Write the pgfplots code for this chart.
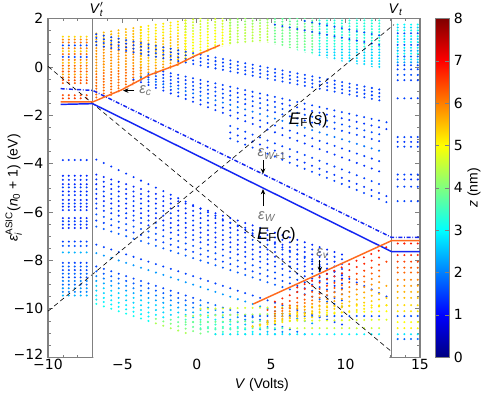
\documentclass[border=0pt]{standalone}
\usepackage{fontspec}
\setmainfont{Liberation Sans}
\newfontfamily\dejavu{DejaVu Sans}
\usepackage{amsmath}
\usepackage{pgfplots}
\pgfplotsset{compat=1.18}
\usetikzlibrary{arrows.meta}
\definecolor{lineblue}{rgb}{0.08,0.15,0.95}
\definecolor{lineorange}{rgb}{1,0.42,0.12}
\definecolor{framegray}{gray}{0.5}
\definecolor{labelgray}{gray}{0.45}
% one dotted level: dots every column, coloured by z through the colormap
\pgfplotsset{dd/.style={mesh, point meta=explicit, line width=1.7pt, line cap=round, dash pattern=on 0pt off #1}}

\begin{document}
\begin{tikzpicture}
\begin{axis}[
  name=main,
  scale only axis, width=279pt, height=254pt,
  xmin=-10, xmax=15, ymin=-12, ymax=2,
  xtick={-10,-5,0,5,10,15}, xticklabels={−10,−5,0,5,10,15},
  ytick={-12,-10,-8,-6,-4,-2,0,2}, yticklabels={\raisebox{4pt}{−12},−10,−8,−6,−4,−2,0,2},
  minor x tick num=4, minor y tick num=3,
  tick align=inside, major tick length=3.5pt, minor tick length=2pt,
  tick label style={font=\dejavu\fontsize{10.5}{12}\selectfont},
  xticklabel style={inner sep=1.5pt},
  axis line style={framegray, line width=0.9pt},
  every tick/.append style={framegray, line width=0.5pt},
  clip mode=individual,
  colormap/jet, point meta min=0, point meta max=8,
  colorbar,
  colorbar style={scale only axis, width=10.5pt, at={(parent axis.north east)},
    anchor=north west, xshift=2.8pt, ytick={0,1,2,3,4,5,6,7,8},
    yticklabels={0,1,2,3,4,5,6,7,8},
    yticklabel style={font=\dejavu\fontsize{10.5}{12}\selectfont},
    axis line style={framegray, line width=0.8pt},
    major tick length=3pt, ylabel={\textit{z} (nm)},
    ylabel style={font=\fontsize{10.5}{12}\selectfont, at={(axis description cs:2.78,0.5)}, anchor=center}},
  label style={font=\fontsize{10.5}{12}\selectfont},
  xlabel={\textit{V} (Volts)},
  xlabel style={at={(axis description cs:0.575,-0.083)}, anchor=center},
  ylabel={\textit{ε}$_{\textit{i}}^{\text{ASIC}}$(\textit{n}$_{\text{0}}$ + 1) (eV)},
  ylabel style={at={(axis description cs:-0.092,0.5)}, anchor=center},
]
% ---- upper band (conduction-like states), V_t' < V < V_t
\addplot[dd=5.6pt] coordinates {(-6.75,-1.26)[6.3] (-3.75,-0.99)[6.0] (-0.75,-0.72)[5.5] (2.25,-0.45)[4.7] (5.25,-0.30)[4.0] (8.25,-0.24)[3.0] (12.75,-0.24)[2.4]};
\addplot[dd=5.6pt] coordinates {(-6.75,-1.14)[6.3] (-3.75,-0.87)[6.0] (-0.75,-0.60)[5.5] (2.25,-0.33)[4.7] (5.25,-0.18)[4.0] (8.25,-0.12)[3.0] (12.75,-0.12)[2.4]};
\addplot[dd=5.6pt] coordinates {(-6.75,-1.02)[6.3] (-3.75,-0.75)[6.0] (-0.75,-0.48)[5.5] (2.25,-0.21)[4.7] (5.25,-0.06)[4.0] (8.25,0.00)[3.0] (12.75,0.00)[2.4]};
\addplot[dd=5.6pt] coordinates {(-6.75,-0.90)[6.3] (-3.75,-0.63)[6.0] (-0.75,-0.36)[5.5] (2.25,-0.09)[4.7] (5.25,0.06)[4.0] (8.25,0.12)[3.0] (12.75,0.12)[2.4]};
\addplot[dd=5.6pt] coordinates {(-6.75,-0.78)[6.3] (-3.75,-0.51)[6.0] (-0.75,-0.24)[5.5] (2.25,0.03)[4.7] (5.25,0.18)[4.0] (8.25,0.24)[3.0] (12.75,0.24)[2.4]};
\addplot[dd=5.6pt] coordinates {(-6.75,-0.66)[6.3] (-3.75,-0.39)[6.0] (-0.75,-0.12)[5.5] (2.25,0.15)[4.7] (5.25,0.30)[4.0] (8.25,0.36)[3.0] (12.75,0.36)[2.4]};
\addplot[dd=5.6pt] coordinates {(-6.75,-0.54)[6.3] (-3.75,-0.27)[6.0] (-0.75,0.00)[5.5] (2.25,0.27)[4.7] (5.25,0.42)[4.0] (8.25,0.48)[3.0] (12.75,0.48)[2.4]};
\addplot[dd=5.6pt] coordinates {(-6.75,-0.42)[6.3] (-3.75,-0.15)[6.0] (-0.75,0.12)[5.5] (2.25,0.39)[4.7] (5.25,0.54)[4.0] (8.25,0.60)[3.0] (12.75,0.60)[2.4]};
\addplot[dd=5.6pt] coordinates {(-6.75,-0.30)[6.3] (-3.75,-0.03)[6.0] (-0.75,0.24)[5.5] (2.25,0.51)[4.7] (5.25,0.66)[4.0] (8.25,0.72)[3.0] (12.75,0.72)[2.4]};
\addplot[dd=5.6pt] coordinates {(-6.75,-0.18)[6.0] (-3.75,0.09)[5.7] (-0.75,0.36)[5.2] (2.25,0.63)[4.7] (5.25,0.78)[4.2] (8.25,0.84)[3.6] (12.75,0.84)[3.0]};
\addplot[dd=5.6pt] coordinates {(-6.75,-0.06)[6.0] (-3.75,0.21)[5.7] (-0.75,0.48)[5.2] (2.25,0.75)[4.7] (5.25,0.90)[4.2] (8.25,0.96)[3.6] (12.75,0.96)[3.0]};
\addplot[dd=5.6pt] coordinates {(-6.75,0.06)[6.0] (-3.75,0.33)[5.7] (-0.75,0.60)[5.2] (2.25,0.87)[4.7] (5.25,1.02)[4.2] (8.25,1.08)[3.6] (12.75,1.08)[3.0]};
\addplot[dd=5.6pt] coordinates {(-6.75,0.18)[6.0] (-3.75,0.45)[5.7] (-0.75,0.72)[5.2] (2.25,0.99)[4.7] (5.25,1.14)[4.2] (8.25,1.20)[3.6] (12.75,1.20)[3.0]};
\addplot[dd=5.6pt] coordinates {(-6.75,0.30)[6.0] (-3.75,0.57)[5.7] (-0.75,0.84)[5.2] (2.25,1.11)[4.7] (5.25,1.26)[4.2] (8.25,1.32)[3.6] (12.75,1.32)[3.0]};
\addplot[dd=5.6pt] coordinates {(-6.75,0.42)[6.0] (-3.75,0.69)[5.7] (-0.75,0.96)[5.2] (2.25,1.23)[4.7] (5.25,1.38)[4.2] (8.25,1.44)[3.6] (12.75,1.44)[3.0]};
\addplot[dd=5.6pt] coordinates {(-6.75,0.54)[6.0] (-3.75,0.81)[5.7] (-0.75,1.08)[5.2] (2.25,1.35)[4.7] (5.25,1.50)[4.2] (8.25,1.56)[3.6] (12.75,1.56)[3.0]};
\addplot[dd=5.6pt] coordinates {(-6.75,0.66)[6.0] (-3.75,0.93)[5.7] (-0.75,1.20)[5.2] (2.25,1.47)[4.7] (5.25,1.62)[4.2] (8.25,1.68)[3.6] (12.75,1.68)[3.0]};
\addplot[dd=5.6pt] coordinates {(-6.75,0.78)[6.0] (-3.75,1.05)[5.7] (-0.75,1.32)[5.2] (2.25,1.59)[4.7] (5.25,1.74)[4.2] (8.25,1.80)[3.6] (12.75,1.80)[3.0]};
\addplot[dd=5.6pt] coordinates {(-6.75,0.90)[5.7] (-3.75,1.17)[5.4] (-0.75,1.44)[4.9] (2.25,1.71)[4.4] (5.25,1.86)[4.0] (8.25,1.92)[3.6] (12.75,1.92)[3.0]};
\addplot[dd=5.6pt] coordinates {(-6.75,1.02)[5.7] (-3.75,1.29)[5.4] (-0.75,1.56)[4.9] (2.25,1.83)[4.4] (5.25,1.98)[4.0] (8.25,2.04)[3.6] (12.75,2.04)[3.0]};
\addplot[dd=5.6pt] coordinates {(-6.75,1.14)[5.7] (-3.75,1.41)[5.4] (-0.75,1.68)[4.9] (2.25,1.95)[4.4] (5.25,2.10)[4.0]};
\addplot[dd=5.6pt] coordinates {(-6.75,1.26)[5.7] (-3.75,1.53)[5.4] (-0.75,1.80)[4.9] (2.25,2.07)[4.4]};
\addplot[dd=5.6pt] coordinates {(-6.75,1.38)[5.7] (-3.75,1.65)[5.4] (-0.75,1.92)[4.9] (2.25,2.19)[4.4]};
% nothing of the band lies below eps_c and its continuation
\addplot[fill=white, draw=none] coordinates {(-6.95,-1.52) (-5.06,-1.02) (-3.16,-0.40) (-1.37,0.01) (0,0.42) (1.55,0.83) (3.0,0.97) (4.7,1.02) (9.1,0.30) (12.95,-0.15) (12.95,-12.2) (-6.95,-12.2)} --cycle;

% ---- V < V_t' : flat levels
\addplot[dd=4.46pt] coordinates {(-9,1.25)[5.3] (-7.4,1.25)[5.3]};
\addplot[dd=4.46pt] coordinates {(-9,1.13)[5.9] (-7.4,1.13)[5.9]};
\addplot[dd=4.46pt] coordinates {(-9,1.01)[6.1] (-7.4,1.01)[6.1]};
\addplot[dd=4.46pt] coordinates {(-9,0.89)[1.5] (-7.4,0.89)[1.5]};
\addplot[dd=4.46pt] coordinates {(-9,0.77)[6.0] (-7.4,0.77)[6.0]};
\addplot[dd=4.46pt] coordinates {(-9,0.65)[5.4] (-7.4,0.65)[5.4]};
\addplot[dd=4.46pt] coordinates {(-9,0.53)[6.2] (-7.4,0.53)[6.2]};
\addplot[dd=4.46pt] coordinates {(-9,0.41)[1.5] (-7.4,0.41)[1.5]};
\addplot[dd=4.46pt] coordinates {(-9,0.29)[6.0] (-7.4,0.29)[6.0]};
\addplot[dd=4.46pt] coordinates {(-9,0.17)[5.5] (-7.4,0.17)[5.5]};
\addplot[dd=4.46pt] coordinates {(-9,0.05)[6.2] (-7.4,0.05)[6.2]};
\addplot[dd=4.46pt] coordinates {(-9,-0.07)[5.9] (-7.4,-0.07)[5.9]};
\addplot[dd=4.46pt] coordinates {(-9,-0.19)[6.3] (-7.4,-0.19)[6.3]};
\addplot[dd=4.46pt] coordinates {(-9,-0.31)[5.7] (-7.4,-0.31)[5.7]};
\addplot[dd=4.46pt] coordinates {(-9,-0.43)[6.2] (-7.4,-0.43)[6.2]};
\addplot[dd=4.46pt] coordinates {(-9,-0.55)[6.4] (-7.4,-0.55)[6.4]};
\addplot[dd=4.46pt] coordinates {(-9,-0.67)[6.3] (-7.4,-0.67)[6.3]};
\addplot[dd=4.46pt] coordinates {(-9,-1.17)[6.4] (-7.4,-1.17)[6.4]};
\addplot[dd=4.46pt] coordinates {(-9,-1.30)[6.5] (-7.4,-1.30)[6.5]};
\addplot[dd=4.46pt] coordinates {(-9,-3.85)[1.4] (-7.4,-3.85)[1.4]};
\addplot[dd=4.46pt] coordinates {(-9,-4.50)[1.3] (-7.4,-4.50)[1.3]};
\addplot[dd=4.46pt] coordinates {(-9,-4.67)[1.4] (-7.4,-4.67)[1.4]};
\addplot[dd=4.46pt] coordinates {(-9,-4.85)[1.3] (-7.4,-4.85)[1.3]};
\addplot[dd=4.46pt] coordinates {(-9,-4.98)[1.5] (-7.4,-4.98)[1.5]};
\addplot[dd=4.46pt] coordinates {(-9,-5.15)[1.3] (-7.4,-5.15)[1.3]};
\addplot[dd=4.46pt] coordinates {(-9,-5.30)[1.4] (-7.4,-5.30)[1.4]};
\addplot[dd=4.46pt] coordinates {(-9,-5.50)[1.3] (-7.4,-5.50)[1.3]};
\addplot[dd=4.46pt] coordinates {(-9,-5.65)[1.5] (-7.4,-5.65)[1.5]};
\addplot[dd=4.46pt] coordinates {(-9,-5.78)[1.3] (-7.4,-5.78)[1.3]};
\addplot[dd=4.46pt] coordinates {(-9,-5.92)[1.4] (-7.4,-5.92)[1.4]};
\addplot[dd=4.46pt] coordinates {(-9,-6.25)[1.3] (-7.4,-6.25)[1.3]};
\addplot[dd=4.46pt] coordinates {(-9,-6.38)[1.5] (-7.4,-6.38)[1.5]};
\addplot[dd=4.46pt] coordinates {(-9,-6.52)[1.4] (-7.4,-6.52)[1.4]};
\addplot[dd=4.46pt] coordinates {(-9,-6.66)[1.3] (-7.4,-6.66)[1.3]};
\addplot[dd=4.46pt] coordinates {(-9,-7.22)[1.5] (-7.4,-7.22)[1.5]};
\addplot[dd=4.46pt] coordinates {(-9,-7.40)[1.6] (-7.4,-7.40)[1.6]};
\addplot[dd=4.46pt] coordinates {(-9,-7.67)[2.4] (-7.4,-7.67)[2.4]};
\addplot[dd=4.46pt] coordinates {(-9,-8.10)[1.5] (-7.4,-8.10)[1.5]};
\addplot[dd=4.46pt] coordinates {(-9,-8.25)[1.7] (-7.4,-8.25)[1.7]};
\addplot[dd=4.46pt] coordinates {(-9,-8.40)[1.5] (-7.4,-8.40)[1.5]};
\addplot[dd=4.46pt] coordinates {(-9,-8.55)[1.8] (-7.4,-8.55)[1.8]};
\addplot[dd=4.46pt] coordinates {(-9,-8.70)[1.6] (-7.4,-8.70)[1.6]};
\addplot[dd=4.46pt] coordinates {(-9,-8.85)[2.0] (-7.4,-8.85)[2.0]};
\addplot[dd=4.46pt] coordinates {(-9,-9.00)[1.8] (-7.4,-9.00)[1.8]};
\addplot[dd=4.46pt] coordinates {(-9,-9.15)[2.2] (-7.4,-9.15)[2.2]};
\addplot[dd=4.46pt] coordinates {(-9,-9.30)[2.0] (-7.4,-9.30)[2.0]};
\addplot[dd=4.46pt] coordinates {(-9,-9.45)[2.4] (-7.4,-9.45)[2.4]};

% ---- V > V_t : flat levels
\addplot[dd=5.02pt] coordinates {(13.5,1.75)[3.0] (14.85,1.75)[3.0]};
\addplot[dd=5.02pt] coordinates {(13.5,1.63)[2.7] (14.85,1.63)[2.7]};
\addplot[dd=5.02pt] coordinates {(13.5,1.51)[3.1] (14.85,1.51)[3.1]};
\addplot[dd=5.02pt] coordinates {(13.5,1.39)[1.6] (14.85,1.39)[1.6]};
\addplot[dd=5.02pt] coordinates {(13.5,1.27)[3.0] (14.85,1.27)[3.0]};
\addplot[dd=5.02pt] coordinates {(13.5,1.15)[2.5] (14.85,1.15)[2.5]};
\addplot[dd=5.02pt] coordinates {(13.5,1.03)[3.0] (14.85,1.03)[3.0]};
\addplot[dd=5.02pt] coordinates {(13.5,0.91)[1.6] (14.85,0.91)[1.6]};
\addplot[dd=5.02pt] coordinates {(13.5,0.79)[2.9] (14.85,0.79)[2.9]};
\addplot[dd=5.02pt] coordinates {(13.5,0.67)[2.4] (14.85,0.67)[2.4]};
\addplot[dd=5.02pt] coordinates {(13.5,0.55)[3.1] (14.85,0.55)[3.1]};
\addplot[dd=5.02pt] coordinates {(13.5,0.43)[1.8] (14.85,0.43)[1.8]};
\addplot[dd=5.02pt] coordinates {(13.5,0.31)[2.8] (14.85,0.31)[2.8]};
\addplot[dd=5.02pt] coordinates {(13.5,0.19)[2.3] (14.85,0.19)[2.3]};
\addplot[dd=5.02pt] coordinates {(13.5,0.07)[1.5] (14.85,0.07)[1.5]};
\addplot[dd=5.02pt] coordinates {(13.5,-0.10)[1.5] (14.85,-0.10)[1.5]};
\addplot[dd=5.02pt] coordinates {(13.5,-0.33)[1.6] (14.85,-0.33)[1.6]};
\addplot[dd=5.02pt] coordinates {(13.5,-0.55)[1.5] (14.85,-0.55)[1.5]};
\addplot[dd=5.02pt] coordinates {(13.5,-1.30)[1.5] (14.85,-1.30)[1.5]};
\addplot[dd=5.02pt] coordinates {(13.5,-2.90)[1.5] (14.85,-2.90)[1.5]};
\addplot[dd=5.02pt] coordinates {(13.5,-3.10)[1.4] (14.85,-3.10)[1.4]};
\addplot[dd=5.02pt] coordinates {(13.5,-3.30)[1.5] (14.85,-3.30)[1.5]};
\addplot[dd=5.02pt] coordinates {(13.5,-4.45)[1.5] (14.85,-4.45)[1.5]};
\addplot[dd=5.02pt] coordinates {(13.5,-4.65)[1.4] (14.85,-4.65)[1.4]};
\addplot[dd=5.02pt] coordinates {(13.5,-4.95)[1.5] (14.85,-4.95)[1.5]};
\addplot[dd=5.02pt] coordinates {(13.5,-5.55)[1.5] (14.85,-5.55)[1.5]};
\addplot[dd=5.02pt] coordinates {(13.5,-7.30)[6.8] (14.85,-7.30)[6.8]};
\addplot[dd=5.02pt] coordinates {(13.5,-7.78)[6.7] (14.85,-7.78)[6.7]};
\addplot[dd=5.02pt] coordinates {(13.5,-8.05)[6.5] (14.85,-8.05)[6.5]};
\addplot[dd=5.02pt] coordinates {(13.5,-8.30)[6.3] (14.85,-8.30)[6.3]};
\addplot[dd=5.02pt] coordinates {(13.5,-8.50)[6.2] (14.85,-8.50)[6.2]};
\addplot[dd=5.02pt] coordinates {(13.5,-8.80)[6.0] (14.85,-8.80)[6.0]};
\addplot[dd=5.02pt] coordinates {(13.5,-9.05)[5.8] (14.85,-9.05)[5.8]};
\addplot[dd=5.02pt] coordinates {(13.5,-9.30)[5.6] (14.85,-9.30)[5.6]};
\addplot[dd=5.02pt] coordinates {(13.5,-9.55)[5.5] (14.85,-9.55)[5.5]};
\addplot[dd=5.02pt] coordinates {(13.5,-9.85)[5.3] (14.85,-9.85)[5.3]};
\addplot[dd=5.02pt] coordinates {(13.5,-10.10)[5.2] (14.85,-10.10)[5.2]};
\addplot[dd=5.02pt] coordinates {(13.5,-10.30)[1.6] (14.85,-10.30)[1.6]};
\addplot[dd=5.02pt] coordinates {(13.5,-10.55)[5.0] (14.85,-10.55)[5.0]};
\addplot[dd=5.02pt] coordinates {(13.5,-10.80)[5.1] (14.85,-10.80)[5.1]};
\addplot[dd=5.02pt] coordinates {(13.5,-11.05)[2.8] (14.85,-11.05)[2.8]};
\addplot[dd=5.02pt] coordinates {(13.5,-11.25)[1.8] (14.85,-11.25)[1.8]};

% ---- V_t' < V < V_t : sloped levels
% upper blue group
\addplot[dd=5.69pt] coordinates {(-6.75,1.35)[1.5] (12.75,-0.99)[1.5]};
\addplot[dd=5.69pt] coordinates {(-6.75,1.20)[1.5] (12.75,-1.14)[1.5]};
\addplot[dd=5.69pt] coordinates {(-6.75,1.05)[1.5] (12.75,-1.29)[1.5]};
\addplot[dd=5.69pt] coordinates {(-6.75,0.90)[1.5] (12.75,-1.44)[1.5]};
\addplot[dd=5.69pt] coordinates {(5.25,1.75)[1.5] (12.75,0.85)[1.5]};
\addplot[dd=5.69pt] coordinates {(7.25,1.90)[1.6] (12.75,1.24)[1.6]};
% blue group below eps_c
\addplot[dd=5.72pt] coordinates {(-2.25,-0.19)[1.5] (12.75,-2.29)[1.5]};
\addplot[dd=5.74pt] coordinates {(-2.75,-0.25)[1.4] (12.75,-2.57)[1.4]};
\addplot[dd=5.77pt] coordinates {(-3.25,-0.30)[1.6] (12.75,-2.86)[1.6]};
\addplot[dd=5.79pt] coordinates {(-3.25,-0.43)[1.5] (12.75,-3.15)[1.5]};
\addplot[dd=5.84pt] coordinates {(-3.75,-0.43)[1.9] (12.75,-3.56)[1.9]};
\addplot[dd=5.90pt] coordinates {(-3.75,-0.53)[1.5] (12.75,-4.00)[1.5]};
\addplot[dd=5.96pt] coordinates {(-4.25,-0.52)[1.4] (12.75,-4.43)[1.4]};
\addplot[dd=5.99pt] coordinates {(2.25,-2.44)[1.5] (12.75,-4.96)[1.5]};
\addplot[dd=6.02pt] coordinates {(2.25,-2.71)[1.4] (12.75,-5.34)[1.4]};
\addplot[dd=6.02pt] coordinates {(2.25,-2.96)[1.5] (12.75,-5.59)[1.5]};
% level parallel to eps_W
\addplot[dd=6.17pt] coordinates {(-6.75,-3.83)[1.4] (12.75,-9.49)[1.4]};
% lower blue group
\addplot[dd=5.87pt] coordinates {(-6.75,-4.45)[1.3] (10.25,-7.85)[1.3]};
\addplot[dd=5.87pt] coordinates {(-6.75,-4.65)[1.4] (10.25,-8.05)[1.4]};
\addplot[dd=5.87pt] coordinates {(-6.75,-4.85)[1.3] (10.25,-8.25)[1.3]};
\addplot[dd=5.87pt] coordinates {(-6.75,-5.05)[1.5] (10.25,-8.45)[1.5]};
\addplot[dd=5.87pt] coordinates {(-6.75,-5.25)[1.4] (10.25,-8.65)[1.4]};
\addplot[dd=5.87pt] coordinates {(-6.75,-5.45)[1.3] (10.25,-8.85)[1.3]};
\addplot[dd=5.87pt] coordinates {(-6.75,-5.65)[1.5] (10.25,-9.05)[1.5]};
\addplot[dd=5.87pt] coordinates {(-6.75,-5.85)[1.4] (10.25,-9.25)[1.4]};
\addplot[dd=5.87pt] coordinates {(-6.75,-6.10)[1.6] (10.25,-9.50)[1.6]};
\addplot[dd=5.87pt] coordinates {(-6.75,-6.35)[1.5] (10.25,-9.75)[1.5]};
\addplot[dd=5.87pt] coordinates {(-6.75,-6.60)[1.7] (10.25,-10.00)[1.7]};
\addplot[dd=5.87pt] coordinates {(-6.75,-7.35)[1.5] (10.25,-10.75)[1.5]};
\addplot[dd=5.87pt] coordinates {(-6.75,-7.70)[2.2] (8.25,-10.70)[2.2]};
% lowest group, greener towards the right
\addplot[dd=5.87pt] coordinates {(-6.75,-8.25)[1.5] (0.25,-9.65)[1.6] (7.75,-11.15)[2.0]};
\addplot[dd=5.87pt] coordinates {(-6.75,-8.45)[1.6] (0.25,-9.85)[1.8] (6.75,-11.15)[2.4]};
\addplot[dd=5.87pt] coordinates {(-6.75,-8.65)[1.8] (0.25,-10.05)[2.2] (5.75,-11.15)[2.8]};
\addplot[dd=5.87pt] coordinates {(-6.75,-8.85)[2.0] (0.25,-10.25)[2.6] (4.75,-11.15)[3.2]};
\addplot[dd=5.87pt] coordinates {(-6.75,-9.05)[2.3] (0.25,-10.45)[3.0] (3.75,-11.15)[3.8]};
\addplot[dd=5.87pt] coordinates {(-6.75,-9.25)[2.5] (-1.25,-10.35)[2.8] (2.75,-11.15)[4.2]};
\addplot[dd=5.87pt] coordinates {(-6.75,-9.45)[2.7] (-1.75,-10.45)[3.0] (1.75,-11.15)[4.6]};
\addplot[dd=5.87pt] coordinates {(-6.75,-9.62)[2.8] (-2.75,-10.42)[3.0] (0.75,-11.12)[5.0]};
\addplot[dd=5.87pt] coordinates {(-6.75,-9.80)[3.0] (-2.75,-10.60)[3.2] (-0.25,-11.10)[5.5]};
\addplot[dd=5.58pt] coordinates {(0.25,-10.00)[4.3] (6.25,-9.93)[5.0] (12.75,-9.85)[5.4]};
\addplot[dd=5.58pt] coordinates {(-0.75,-10.30)[3.8] (6.25,-10.20)[4.8] (12.75,-10.10)[5.2]};
\addplot[dd=5.58pt] coordinates {(-0.75,-10.55)[3.3] (6.25,-10.50)[4.5] (12.75,-10.45)[5.0]};
\addplot[dd=5.58pt] coordinates {(0.25,-10.80)[3.0] (6.25,-10.80)[4.2] (12.75,-10.80)[5.0]};
\addplot[dd=5.58pt] coordinates {(1.25,-11.05)[2.6] (6.25,-11.05)[3.0] (12.75,-11.05)[2.8]};
\addplot[dd=5.58pt] coordinates {(3.25,-10.30)[1.6] (12.75,-10.30)[1.6]};
% rising levels parallel to eps_v
\addplot[dd=6.10pt] coordinates {(6.75,-9.12)[6.8] (12.75,-7.45)[6.8]};
\addplot[dd=6.06pt] coordinates {(5.25,-9.70)[6.7] (12.75,-7.75)[6.7]};
\addplot[dd=6.02pt] coordinates {(4.75,-10.05)[6.5] (12.75,-8.05)[6.5]};
\addplot[dd=5.99pt] coordinates {(5.25,-10.10)[6.3] (12.75,-8.30)[6.3]};
\addplot[dd=5.93pt] coordinates {(5.25,-10.20)[6.1] (12.75,-8.55)[6.1]};
\addplot[dd=5.87pt] coordinates {(5.25,-10.30)[5.9] (12.75,-8.80)[5.9]};
\addplot[dd=5.81pt] coordinates {(4.75,-10.49)[5.7] (12.75,-9.05)[5.7]};
\addplot[dd=5.77pt] coordinates {(4.25,-10.66)[5.5] (12.75,-9.30)[5.5]};
\addplot[dd=5.70pt] coordinates {(3.75,-10.72)[5.4] (12.75,-9.55)[5.4]};
\addplot[dd=5.65pt] coordinates {(3.75,-10.75)[5.2] (12.75,-9.85)[5.2]};

% ---- Fermi levels of the two contacts
\addplot[black, line width=0.45pt, dash pattern=on 3.5pt off 2.5pt] coordinates {(-10,-10.10) (13.25,1.75)};
\addplot[black, line width=0.45pt, dash pattern=on 3.5pt off 2.5pt] coordinates {(-10,0.02) (13.15,-11.80)};
% ---- V_t' and V_t
\addplot[framegray, line width=0.9pt] coordinates {(-7,-12) (-7,2)};
\addplot[framegray, line width=0.9pt] coordinates {(13.1,-12) (13.1,2)};
% ---- eps_W, eps_W+1, eps_c, eps_v
\addplot[lineblue, line width=1.1pt] coordinates {(-9.15,-1.55) (-7,-1.52) (13.1,-7.64) (15,-7.64)};
\addplot[lineblue, line width=1.1pt, dash pattern=on 3pt off 1.3pt on 0.6pt off 1.3pt] coordinates {(-9.15,-0.90) (-7,-0.97) (13.1,-7.05) (15,-7.05)};
\addplot[lineorange, line width=1.1pt] coordinates {(-9.15,-1.45) (-7,-1.45) (-5.06,-0.95) (-3.16,-0.33) (-1.37,0.08) (0,0.49) (1.55,0.90)};
\addplot[lineorange, line width=1.1pt] coordinates {(3.8,-9.80) (13.1,-7.18) (15,-7.18)};

% ---- labels
\node[anchor=base west, inner sep=0pt, xshift=-2.5pt, yshift=4pt, font=\fontsize{10.5}{12}\selectfont] at (axis cs:-7,2) {\textit{V}$_{\text{\textit{t}}}^{\prime}$};
\node[anchor=base west, inner sep=0pt, xshift=-2.5pt, yshift=4pt, font=\fontsize{10.5}{12}\selectfont] at (axis cs:13.1,2) {\textit{V}$_{\text{\textit{t}}}$};
\draw[-{Stealth[length=4pt,width=3.4pt]}, line width=0.6pt] (axis cs:-4.2,-0.98) -- (axis cs:-4.95,-0.98);
\node[labelgray, font=\fontsize{11}{13}\selectfont] at (axis cs:-3.45,-0.98) {\textit{ε}$_{\textit{c}}$};
\node[labelgray, font=\fontsize{11}{13}\selectfont] at (axis cs:5.05,-3.6) {\textit{ε}$_{\textit{W}\text{+1}}$};
\draw[-{Stealth[length=4pt,width=3.4pt]}, line width=0.6pt] (axis cs:4.45,-3.85) -- (axis cs:4.45,-4.42);
\draw[-{Stealth[length=4pt,width=3.4pt]}, line width=0.6pt] (axis cs:4.45,-5.75) -- (axis cs:4.45,-5.05);
\node[labelgray, font=\fontsize{11}{13}\selectfont] at (axis cs:4.7,-6.2) {\textit{ε}$_{\textit{W}}$};
\node[font=\fontsize{12.5}{14}\selectfont] at (axis cs:5.35,-6.95) {\textit{E}$_{\text{F}}$(\textit{c})};
\node[font=\fontsize{12.5}{14}\selectfont] at (axis cs:7.5,-2.2) {\textit{E}$_{\text{F}}$(\textit{s})};
\node[labelgray, font=\fontsize{11}{13}\selectfont] at (axis cs:8.45,-7.72) {\textit{ε}$_{\textit{v}}$};
\draw[-{Stealth[length=4pt,width=3.4pt]}, line width=0.6pt] (axis cs:8.27,-8.0) -- (axis cs:8.27,-8.48);
\end{axis}
% page = the reference's frame around the axis box
\pgfresetboundingbox
\path ([xshift=-36pt,yshift=-30.75pt]main.south west) rectangle ([xshift=47.25pt,yshift=13.9pt]main.north east);
\end{tikzpicture}
\end{document}
